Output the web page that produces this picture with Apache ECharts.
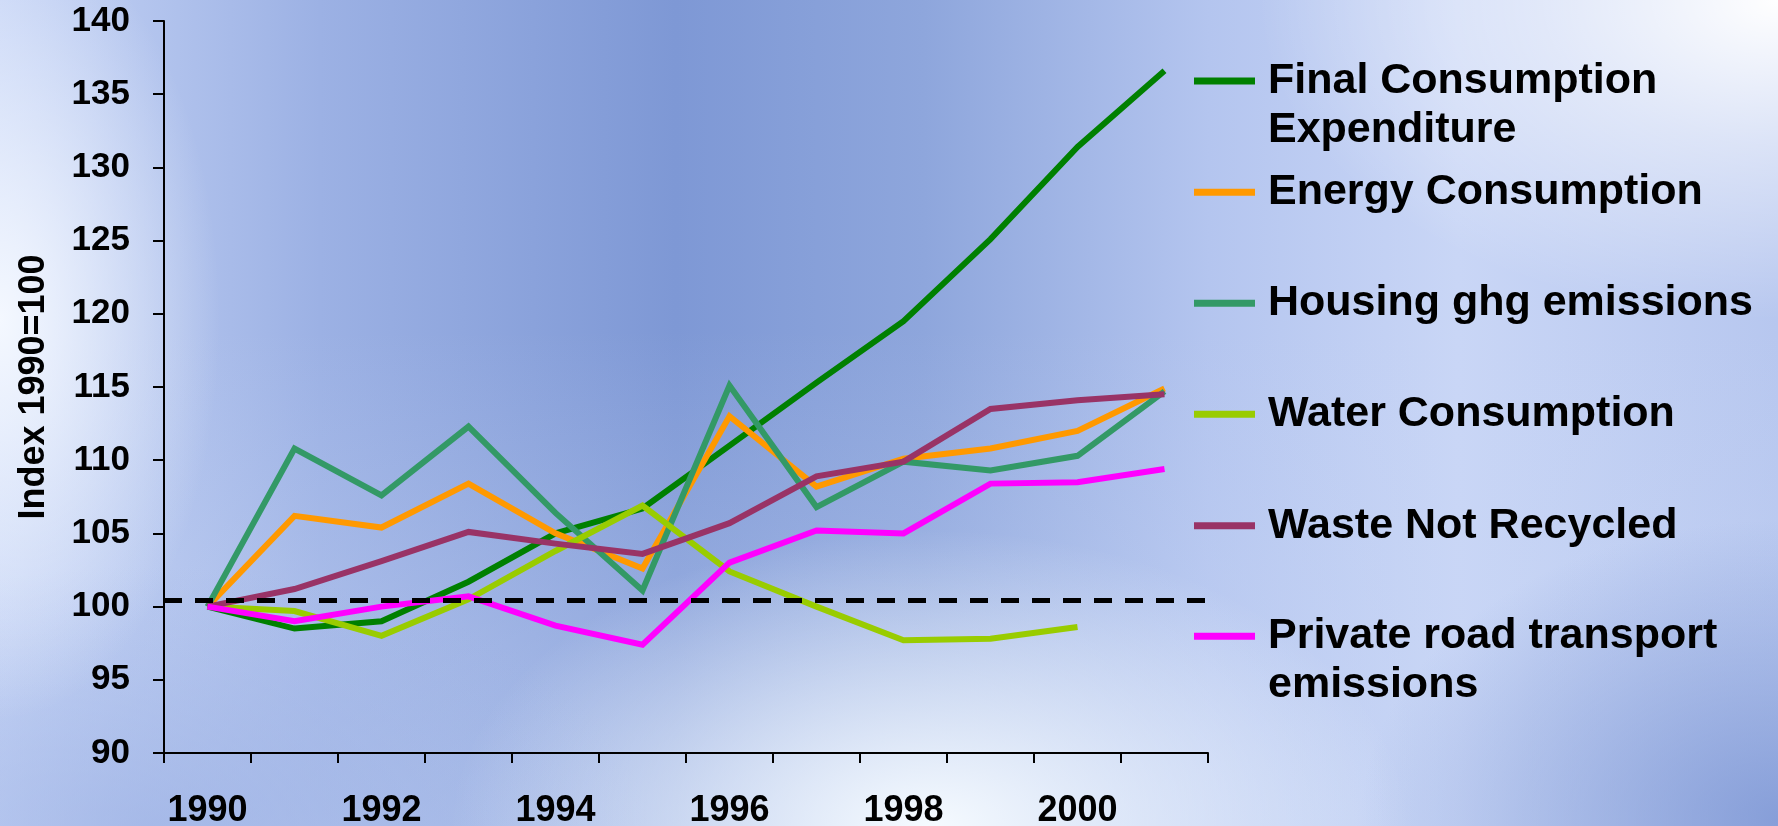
<!DOCTYPE html>
<html>
<head>
<meta charset="utf-8">
<script src="https://cdn.jsdelivr.net/npm/echarts@6/dist/echarts.min.js"></script>
<style>
html, body { margin: 0; padding: 0; width: 1778px; height: 826px; overflow: hidden; }
body {
  background:
    radial-gradient(ellipse 480px 300px at 930px 830px, rgba(246,251,255,1) 0%, rgba(246,251,255,0.6) 40%, rgba(246,251,255,0) 100%),
    radial-gradient(ellipse 520px 320px at 1778px 0px, rgba(255,255,255,1) 0%, rgba(255,255,255,0.5) 45%, rgba(255,255,255,0) 100%),
    radial-gradient(ellipse 220px 400px at 0px 320px, rgba(244,248,255,1) 0%, rgba(244,248,255,0.55) 45%, rgba(244,248,255,0) 100%),
    radial-gradient(ellipse 420px 300px at 1780px 820px, rgba(120,146,210,0.8) 0%, rgba(120,146,210,0) 100%),
    radial-gradient(ellipse 500px 260px at 150px 826px, rgba(150,172,226,0.6) 0%, rgba(150,172,226,0) 100%),
    linear-gradient(180deg, rgba(255,255,255,0) 0%, rgba(255,255,255,0) 40%, rgba(200,214,245,0.5) 100%),
    linear-gradient(90deg, #c7d5f6 0%, #9cb1e4 18%, #7e98d5 38%, #8ea6dc 52%, #b4c5ef 68%, #c9d6f6 82%, #b7c7ef 100%);
}
#chart { width: 1778px; height: 826px; }
</style>
</head>
<body>
<div id="chart"></div>
<script>
// ---- data ----
var years = ['1990','1991','1992','1993','1994','1995','1996','1997','1998','1999','2000','2001'];
var seriesNames = [
  'Final Consumption Expenditure',
  'Energy Consumption',
  'Housing ghg emissions',
  'Water Consumption',
  'Waste Not Recycled',
  'Private road transport emissions'
];
var legendLabels = [
  'Final Consumption\nExpenditure',
  'Energy Consumption',
  'Housing ghg emissions',
  'Water Consumption',
  'Waste Not Recycled',
  'Private road transport\nemissions'
];
var finalConsumption = [100, 98.5, 99.0, 101.7, 105.0, 106.7, 111.0, 115.3, 119.5, 125.1, 131.4, 136.6];
var energyConsumption = [100, 106.2, 105.4, 108.4, 105.0, 102.6, 113.0, 108.2, 110.1, 110.8, 112.0, 114.9];
var housingGhg = [100, 110.8, 107.6, 112.3, 106.4, 101.1, 115.1, 106.8, 109.9, 109.3, 110.3, 114.7];
var waterConsumption = [100, 99.7, 98.0, 100.5, 103.8, 106.9, 102.4, 100.0, 97.7, 97.8, 98.6, null];
var wasteNotRecycled = [100, 101.2, 103.1, 105.1, 104.3, 103.6, 105.7, 108.9, 109.9, 113.5, 114.1, 114.5];
var privateTransport = [100, 99.0, 100.0, 100.7, 98.7, 97.4, 103.0, 105.2, 105.0, 108.4, 108.5, 109.4];
var baselineValue = 100.45;
var yTickMin = 90, yTickMax = 140, yTickStep = 5;
var axisName = 'Index 1990=100';

// ---- styles ----
var colors = ['#008000', '#FF9900', '#339966', '#99CC00', '#993366', '#FF00FF'];
var allData = [finalConsumption, energyConsumption, housingGhg, waterConsumption, wasteNotRecycled, privateTransport];
var FONT = '"Liberation Sans", Arial, sans-serif';
var legendIconY = [81, 192.3, 303.3, 414.3, 525.7, 636.3];
var LH = 49;

var chart = echarts.init(document.getElementById('chart'), null, { renderer: 'canvas' });

var series = allData.map(function (d, i) {
  return {
    name: seriesNames[i],
    type: 'line',
    data: d,
    color: colors[i],
    showSymbol: false,
    symbol: 'none',
    lineStyle: { width: 6, color: colors[i], join: 'miter', cap: 'butt' },
    itemStyle: { color: colors[i] },
    emphasis: { disabled: true },
    connectNulls: false,
    z: 2 + i
  };
});
series[series.length - 1].markLine = {
  silent: true,
  symbol: 'none',
  label: { show: false },
  lineStyle: { color: '#000', width: 5, type: [18, 13] },
  data: [{ yAxis: baselineValue }],
  z: 20
};

var legends = seriesNames.map(function (n, i) {
  var twoLine = legendLabels[i].indexOf('\n') >= 0;
  var label = twoLine ? '\n' + legendLabels[i] : legendLabels[i];
  var top = twoLine ? legendIconY[i] - 1.5 * LH : legendIconY[i] - LH / 2;
  return {
    show: true,
    left: 1194,
    top: top,
    orient: 'vertical',
    padding: 0,
    itemWidth: 61,
    itemHeight: 7,
    icon: 'rect',
    selectedMode: false,
    data: [n],
    formatter: function () { return label; },
    textStyle: {
      fontSize: 43,
      fontWeight: 'bold',
      fontFamily: FONT,
      color: '#000',
      lineHeight: LH,
      padding: [0, 0, 0, 8]
    }
  };
});

chart.setOption({
  animation: false,
  backgroundColor: 'transparent',
  legend: legends,
  grid: { left: 164, right: 570, top: 21, bottom: 73, containLabel: false, outerBoundsMode: 'none' },
  xAxis: {
    type: 'category',
    data: years,
    boundaryGap: true,
    axisLine: { show: true, lineStyle: { color: '#000', width: 2 } },
    axisTick: { show: true, interval: 0, length: 10, lineStyle: { color: '#000', width: 2 } },
    axisLabel: { interval: 1, margin: 40, fontSize: 36, fontWeight: 'bold', fontFamily: FONT, color: '#000' },
    splitLine: { show: false }
  },
  yAxis: {
    type: 'value',
    min: yTickMin,
    max: yTickMax,
    interval: yTickStep,
    name: axisName,
    nameLocation: 'middle',
    nameRotate: 90,
    nameGap: 112,
    nameTextStyle: { fontSize: 36, fontWeight: 'bold', fontFamily: FONT, color: '#000' },
    axisLine: { show: true, lineStyle: { color: '#000', width: 2 } },
    axisTick: { show: true, length: 11, lineStyle: { color: '#000', width: 2 } },
    axisLabel: { margin: 34, fontSize: 35, fontWeight: 'bold', fontFamily: FONT, color: '#000' },
    splitLine: { show: false }
  },
  series: series
});
</script>
</body>
</html>
